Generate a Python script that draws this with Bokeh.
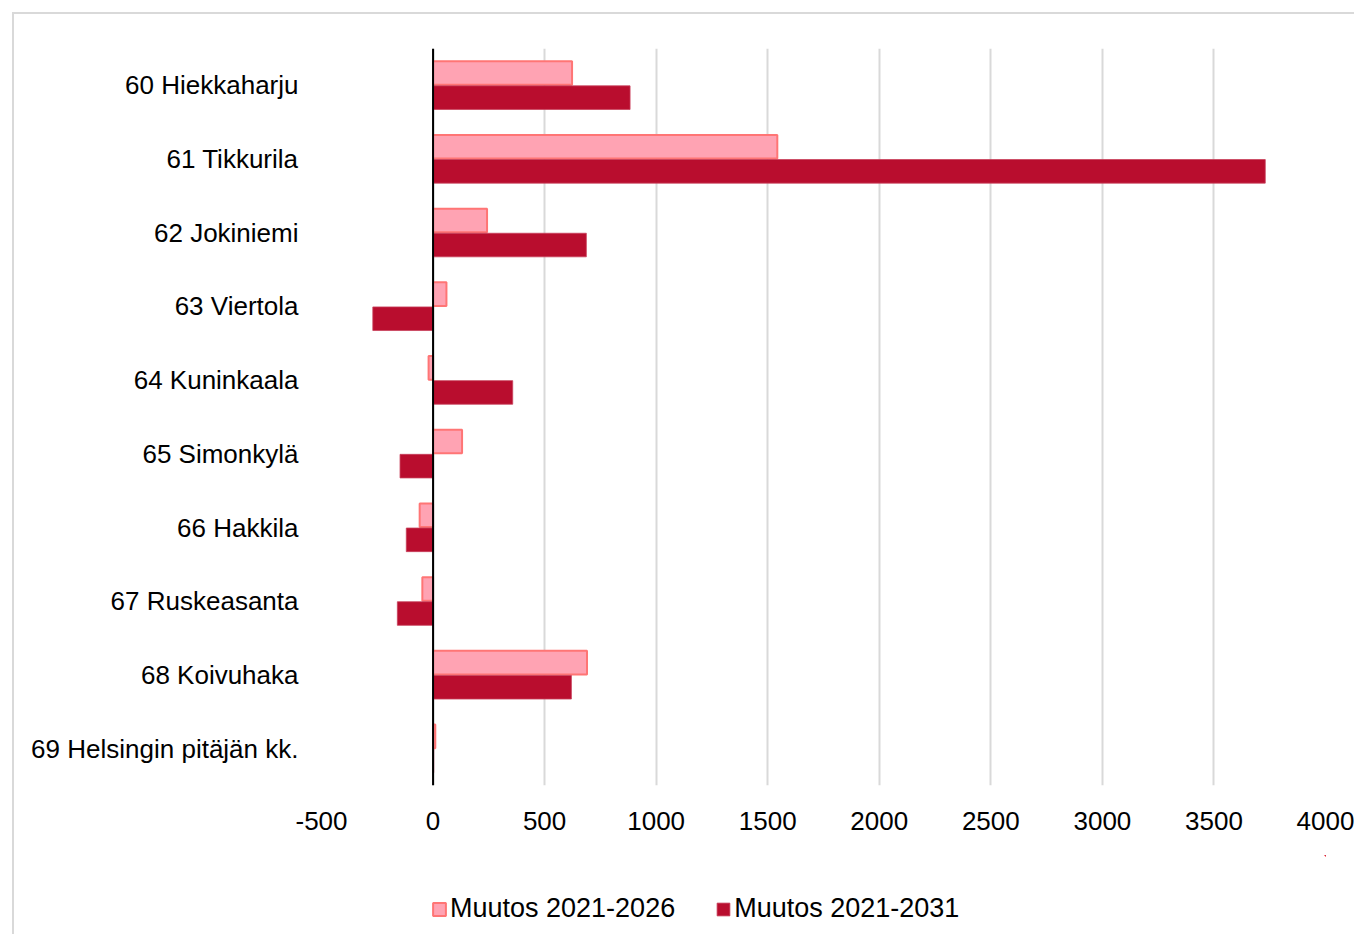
from bokeh.plotting import figure
from bokeh.layouts import column
from bokeh.models import (ColumnDataSource, Range1d, FactorRange, Span, Legend, LegendItem,
                          FixedTicker, CustomJSTickFormatter)
from bokeh.transform import dodge
from bokeh.embed import file_html
from bokeh.resources import INLINE

areas = ["60 Hiekkaharju", "61 Tikkurila", "62 Jokiniemi", "63 Viertola", "64 Kuninkaala",
         "65 Simonkylä", "66 Hakkila", "67 Ruskeasanta", "68 Koivuhaka", "69 Helsingin pitäjän kk."]
muutos_2026 = [623, 1543, 242, 60, -20, 130, -60, -48, 690, 10]
muutos_2031 = [883, 3730, 687, -270, 357, -148, -120, -160, 620, 3]
x_ticks = [-500, 0, 500, 1000, 1500, 2000, 2500, 3000, 3500, 4000]
series_labels = ["Muutos 2021-2026", "Muutos 2021-2031"]

src = ColumnDataSource(dict(area=areas, a=muutos_2026, b=muutos_2031))

FONT = "Liberation Sans"
LIGHT_FILL, LIGHT_LINE = "#FFA3B3", "#FF7575"
DARK_FILL, DARK_LINE = "#B90D2E", "#C8405A"

p = figure(width=1340, height=841, output_backend="svg", toolbar_location=None,
           y_range=FactorRange(*list(reversed(areas)), range_padding=0),
           x_range=Range1d(-500, 4000),
           min_border_left=307, min_border_right=29, min_border_top=34, min_border_bottom=70)
p.outline_line_color = None

p.hbar(y=dodge("area", 0.1667, range=p.y_range), right="a", left=0, height=0.32,
       source=src, fill_color=LIGHT_FILL, line_color=LIGHT_LINE, line_width=2)
p.hbar(y=dodge("area", -0.1667, range=p.y_range), right="b", left=0, height=0.32,
       source=src, fill_color=DARK_FILL, line_color=DARK_LINE, line_width=0.8)

p.add_layout(Span(location=0, dimension="height", line_color="black", line_width=2))

p.xaxis.ticker = FixedTicker(ticks=x_ticks)
p.xaxis.formatter = CustomJSTickFormatter(code="return tick.toString();")
p.xgrid.ticker = FixedTicker(ticks=x_ticks)
p.xgrid.grid_line_color = "#D9D9D9"
p.xgrid.grid_line_width = 2
p.ygrid.grid_line_color = None

for ax in (p.xaxis[0], p.yaxis[0]):
    ax.axis_line_color = None
    ax.major_tick_line_color = None
    ax.minor_tick_line_color = None
    ax.major_tick_out = 0
    ax.major_tick_in = 0
    ax.major_label_text_font = FONT
    ax.major_label_text_font_size = "26px"
    ax.major_label_text_color = "#000000"
p.xaxis.major_label_standoff = 26
p.yaxis.major_label_standoff = 23

# legend strip below the chart (its bars lie outside its visible ranges)
pl = figure(width=1340, height=79, output_backend="svg", toolbar_location=None,
            x_range=Range1d(-100000, -50000), y_range=FactorRange(*areas),
            min_border_left=0, min_border_right=0, min_border_top=0, min_border_bottom=0)
pl.axis.visible = False
pl.grid.visible = False
pl.outline_line_color = None
lr1 = pl.hbar(y=dodge("area", 50, range=pl.y_range), right="a", left=0, height=0.3, source=src,
              fill_color=LIGHT_FILL, line_color=LIGHT_LINE, line_width=2)
lr2 = pl.hbar(y=dodge("area", 50, range=pl.y_range), right="b", left=0, height=0.3, source=src,
              fill_color=DARK_FILL, line_color=DARK_LINE, line_width=0.8)
legend = Legend(items=[LegendItem(label=series_labels[0], renderers=[lr1]),
                       LegendItem(label=series_labels[1], renderers=[lr2])],
                orientation="horizontal", location=(110, 10),
                label_text_font=FONT, label_text_font_size="27px", label_text_color="#000000",
                glyph_width=16, glyph_height=16, label_standoff=3, spacing=40,
                border_line_color=None, background_fill_alpha=0, margin=0, padding=5)
pl.add_layout(legend, "center")

layout = column(p, pl, spacing=0)
layout.styles = {"border-left": "2px solid #d9d9d9", "border-top": "2px solid #d9d9d9",
                 "margin-left": "12px", "margin-top": "12px"}

open("out.html", "w").write(file_html(layout, INLINE))
